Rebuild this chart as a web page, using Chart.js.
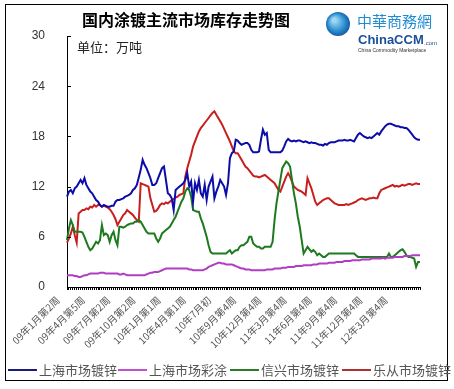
<!DOCTYPE html>
<html>
<head>
<meta charset="utf-8">
<script src="https://cdn.jsdelivr.net/npm/chart.js@4.4.0/dist/chart.umd.min.js"></script>
<style>
  html, body { margin: 0; padding: 0; background: #fff; }
  #wrap { position: relative; width: 454px; height: 389px; }
</style>
</head>
<body>
<div id="wrap"><canvas id="graph" width="454" height="389"></canvas></div>
<script>
// weekly data, 183 weeks (09年1月 - 12年6月)
var tickLabels = ["09年1月第2周", "09年4月第5周", "09年7月第2周", "09年10月第2周", "10年1月第1周", "10年4月第1周", "10年7月初",
  "10年9月第4周", "10年12月第4周", "11年3月第4周", "11年6月第4周", "11年9月第4周", "11年12月第4周", "12年3月第4周"];
var tickEvery = 13;

var shGalv = [10.8, 11.4, 11.6, 11.2, 11.8, 12, 12.4, 12.8, 12.4, 13, 12.2, 11.8, 11.4, 11.2, 10.8, 10.4, 10.2, 9.8, 9.6, 9.8,
  9.7, 9.6, 9.6, 9.7, 9.7, 10.2, 10.4, 10.4, 10.5, 10.6, 10.8, 10.9, 11, 11.2, 11.6, 11.8, 12.2, 13.1, 14, 15.2,
  14.6, 14.2, 13.6, 13, 12.2, 12.2, 12.4, 13, 13.6, 14.2, 14.4, 12.8, 11.2, 11, 10.6, 9.2, 11.6, 11.8, 12, 12.2,
  12.4, 12.8, 13.6, 12, 12.6, 10.2, 12.4, 11.6, 12.8, 11.2, 10.8, 12.2, 10.4, 12, 12.6, 13.2, 10.6, 11.4, 12, 12.8,
  12.4, 12, 11, 12.4, 15.4, 16, 16.2, 17.6, 17.5, 17.2, 17, 17.1, 17.2, 17.2, 17, 16.4, 16.1, 16.1, 16.1, 16.2,
  17.6, 18.8, 18.2, 18.4, 16.4, 16.1, 16.1, 16.1, 16.1, 16.1, 16.1, 16.3, 16.8, 17.4, 17.7, 17.5, 17.4, 17.5, 17.4, 17.5,
  17.5, 17.4, 17.3, 17.4, 17.3, 17.2, 17.3, 17.2, 17.2, 17.1, 17, 17, 16.9, 17.1, 17, 17.2, 17.3, 17.3, 17.3, 17.4,
  17.5, 17.5, 17.5, 17.6, 17.5, 17.5, 17.6, 17.5, 17.4, 17.8, 18.2, 18.4, 18.2, 18, 17.9, 17.8, 17.9, 17.8, 18, 18.2,
  18.4, 18.2, 18.6, 18.9, 19.2, 19.4, 19.5, 19.5, 19.4, 19.3, 19.2, 19.2, 19.1, 19.1, 19, 19, 18.8, 18.5, 18.2, 17.9,
  17.7, 17.6, 17.6];

var shColor = [1.4, 1.4, 1.4, 1.4, 1.3, 1.3, 1.2, 1.2, 1.3, 1.4, 1.4, 1.5, 1.6, 1.6, 1.6, 1.6, 1.6, 1.7, 1.7, 1.7,
  1.6, 1.6, 1.6, 1.6, 1.6, 1.6, 1.6, 1.5, 1.5, 1.6, 1.5, 1.4, 1.4, 1.4, 1.4, 1.4, 1.4, 1.4, 1.4, 1.4,
  1.4, 1.5, 1.6, 1.7, 1.7, 1.8, 1.8, 1.8, 1.9, 2.0, 2.1, 2.2, 2.2, 2.2, 2.2, 2.2, 2.2, 2.2, 2.2, 2.2,
  2.2, 2.2, 2.2, 2.1, 2.1, 2.0, 2.0, 2.0, 2.0, 2.0, 2.0, 2.1, 2.2, 2.4, 2.5, 2.6, 2.7, 2.8, 2.9, 2.9,
  2.8, 2.8, 2.7, 2.7, 2.7, 2.7, 2.6, 2.5, 2.4, 2.3, 2.2, 2.2, 2.1, 2.1, 2.1, 2.0, 2.0, 2.0, 2.0, 2.0,
  2.0, 2.0, 2.0, 2.1, 2.1, 2.1, 2.1, 2.2, 2.2, 2.2, 2.2, 2.3, 2.3, 2.3, 2.4, 2.4, 2.4, 2.4, 2.5, 2.5,
  2.5, 2.5, 2.6, 2.6, 2.6, 2.6, 2.6, 2.7, 2.7, 2.7, 2.8, 2.8, 2.8, 2.8, 2.8, 2.9, 2.9, 2.9, 2.9, 3.0,
  3.0, 3.0, 3.0, 3.1, 3.1, 3.1, 3.1, 3.2, 3.2, 3.2, 3.2, 3.2, 3.3, 3.3, 3.3, 3.3, 3.3, 3.4, 3.4, 3.4,
  3.4, 3.4, 3.4, 3.5, 3.4, 3.5, 3.5, 3.5, 3.5, 3.6, 3.6, 3.6, 3.6, 3.6, 3.7, 3.7, 3.7, 3.7, 3.8, 3.8,
  3.8, 3.8, 3.8];

var xinxing = [5.6, 7, 8, 7.4, 6.6, 6.6, 6.6, 6.6, 6.5, 6, 5.4, 4.8, 4.4, 4.6, 5, 5.4, 5.2, 5.6, 7.4, 6.2,
  6.4, 6.2, 5.4, 6.2, 6.6, 5.6, 5, 7.2, 7.2, 7.1, 7.2, 7.4, 7.5, 7.6, 7.6, 7.8, 7.8, 8, 7.8, 7.4,
  7, 6.6, 6.4, 6.4, 6.4, 6.4, 5.8, 5.4, 5.8, 6.4, 6.6, 6.8, 7, 7.2, 7.6, 8, 8.4, 9, 9.6, 10.2,
  10.6, 11.4, 11.8, 11.6, 10.8, 9.2, 9.1, 9, 9, 8.2, 7.6, 6.8, 6, 5, 4.2, 4, 4, 4, 4, 4,
  4, 4, 4, 4.2, 4.4, 4, 4.2, 4.4, 4.4, 4.8, 5, 5, 5.2, 5.4, 6, 6, 5.2, 5, 4.8, 4.8,
  4.6, 4.6, 4.8, 4.8, 4.8, 4.8, 5.4, 8, 10, 11.4, 12.8, 14.2, 14.6, 15, 14.8, 14.4, 12.8, 11.2, 10, 8.4,
  7.2, 5.6, 4, 4.4, 4.8, 4.5, 4.2, 4.4, 4.2, 3.8, 4, 3.8, 3.6, 3.6, 3.8, 4, 4, 4, 4, 4,
  4, 4, 4, 4, 4, 4, 4, 4, 4, 3.8, 3.6, 3.6, 3.6, 3.6, 3.6, 3.6, 3.6, 3.6, 3.6, 3.6,
  3.6, 3.6, 3.6, 3.6, 3.6, 3.6, 4, 3.6, 3.6, 3.8, 4, 4.2, 4.4, 4.5, 4.2, 3.8, 3.6, 3.6, 3.5, 3.4,
  2.4, 3, 3];

var lecong = [5.3, 5.8, 6.4, 7.2, 6.2, 5.3, 8.8, 9, 9.2, 9.2, 9.4, 9.3, 9.6, 9.5, 9.8, 9.6, 9.8, 9.8, 9.6, 9.7,
  9.6, 9.5, 9.3, 9, 8.6, 8.1, 7.4, 7.8, 8.2, 8.6, 8.8, 9.2, 9, 8.8, 8.6, 8.3, 8, 7.8, 12.4, 12.3,
  12.2, 12.1, 12, 10.6, 9.8, 9, 9.1, 9.4, 9.8, 10, 9.9, 10.1, 10, 10.2, 10.4, 10.5, 10.7, 10.8, 11, 11.1,
  11.2, 13.2, 14.2, 15, 15.8, 16.8, 17.4, 18, 18.6, 19, 19.3, 19.6, 19.9, 20.2, 20.5, 20.8, 21, 20.6, 20.2, 19.8,
  19.4, 18.9, 18.4, 17.9, 17.4, 16.8, 16.2, 16, 16, 15.6, 15.2, 14.8, 14.4, 14.2, 13.9, 13.6, 13.3, 13.2, 13.2, 13.1,
  13.2, 13.3, 13.4, 13.2, 13, 12.8, 12.6, 12.4, 12, 11.6, 11.4, 12, 12.6, 13.2, 13.6, 13.2, 12.6, 12, 11.8, 11.6,
  11.5, 11.4, 11.2, 11, 13, 12.4, 11.8, 11, 10.2, 9.8, 10, 10.2, 10.4, 10.5, 10.6, 10.6, 10.4, 10.2, 10, 9.9,
  9.8, 9.8, 9.8, 9.8, 9.9, 9.8, 9.9, 10, 10.1, 10.2, 10.4, 10.5, 10.6, 10.5, 10.4, 10.5, 10.6, 10.6, 10.7, 10.6,
  10.6, 11.2, 11.6, 11.7, 11.8, 11.9, 12, 12.1, 12.2, 12, 12.1, 12, 12.1, 12.2, 12.1, 12.2, 12.3, 12.3, 12.2, 12.3,
  12.4, 12.3, 12.3];

var categories = [];
for (var i = 0; i < shGalv.length; i++) {
  categories.push(i % tickEvery == 0 && tickLabels[i / tickEvery] ? tickLabels[i / tickEvery] : "");
}

// title, logo, frame, legend, inside ticks on y axis
var decor = {
  id: "decor",
  afterDraw: function (chart) {
    var c = chart.ctx;
    c.save();
    c.strokeStyle = "#000";
    c.lineWidth = 1;
    c.strokeRect(5.5, 4.5, 442, 376);

    c.fillStyle = "#000";
    c.font = "bold 16px 'Noto Sans CJK SC'";
    c.textAlign = "center";
    c.textBaseline = "middle";
    c.fillText("国内涂镀主流市场库存走势图", 186, 20);
    c.font = "13px 'Noto Sans CJK SC'";
    c.textAlign = "left";
    c.fillStyle = "#222";
    c.fillText("单位：万吨", 77, 47);

    // logo
    var g = c.createRadialGradient(334, 20, 2, 338, 24, 13);
    g.addColorStop(0, "#9fd6f2");
    g.addColorStop(0.6, "#2a8fd0");
    g.addColorStop(1, "#15509a");
    c.fillStyle = g;
    c.beginPath();
    c.arc(338, 24, 12, 0, Math.PI * 2);
    c.fill();
    c.fillStyle = "#1e8bd2";
    c.font = "15px 'Noto Sans CJK TC'";
    c.fillText("中華商務網", 357, 21);
    c.fillStyle = "#1a4f9a";
    c.font = "bold 13px 'Liberation Sans'";
    c.fillText("ChinaCCM", 358, 40);
    c.font = "6px 'Liberation Sans'";
    c.fillText(".com", 424, 43);
    c.font = "5px 'Liberation Sans'";
    c.fillStyle = "#333";
    c.fillText("China Commodity Marketplace", 358, 51);

    // legend in one row along the bottom
    var lx = [8, 118, 230, 342];
    c.font = "13px 'Noto Sans CJK SC'";
    chart.data.datasets.forEach(function (ds, k) {
      c.strokeStyle = ds.backgroundColor;
      c.lineWidth = 2;
      c.beginPath();
      c.moveTo(lx[k], 370);
      c.lineTo(lx[k] + 29, 370);
      c.stroke();
      c.fillStyle = "#555";
      c.fillText(ds.label, lx[k] + 31, 370);
    });

    // small inside tick marks on y axis
    var y = chart.scales.y;
    var left = chart.chartArea.left;
    c.strokeStyle = "#000";
    c.lineWidth = 1;
    y.ticks.forEach(function (t) {
      var py = Math.round(y.getPixelForValue(t.value)) + 0.5;
      c.beginPath();
      c.moveTo(left, py);
      c.lineTo(left + 4, py);
      c.stroke();
    });
    c.restore();
  },
};

var ctx = document.getElementById("graph").getContext("2d");
var myChart = new Chart(ctx, {
  type: "line",
  data: {
    labels: categories,
    datasets: [
      { label: "上海市场镀锌", data: shGalv, borderColor: "#0c0ca8", backgroundColor: "#1a1a80" },
      { label: "上海市场彩涂", data: shColor, borderColor: "#b23cc4", backgroundColor: "#c050d0" },
      { label: "信兴市场镀锌", data: xinxing, borderColor: "#1e7a1e", backgroundColor: "#2a7a2a" },
      { label: "乐从市场镀锌", data: lecong, borderColor: "#c81e1e", backgroundColor: "#b03030" },
    ],
  },
  options: {
    responsive: false,
    animation: false,
    elements: {
      point: { radius: 0 },
      line: { borderWidth: 2, tension: 0 },
    },
    layout: { padding: { left: 10, right: 34, top: 36, bottom: 34 } },
    plugins: {
      tooltip: { enabled: false },
      legend: { display: false },
    },
    scales: {
      x: {
        grid: { drawOnChartArea: false, tickLength: 3, color: "#000" },
        border: { color: "#000" },
        afterFit: function (scale) {
          scale.height = 68;
        },
        ticks: {
          autoSkip: false,
          minRotation: 45,
          maxRotation: 45,
          labelOffset: -9,
          padding: 4,
          color: "#555",
          font: { family: "'Noto Sans CJK SC'", size: 10 },
        },
      },
      y: {
        min: 0,
        max: 30,
        grid: { display: false },
        border: { color: "#000" },
        afterFit: function (scale) {
          scale.width = 57;
        },
        ticks: {
          stepSize: 6,
          padding: 14,
          color: "#333",
          font: { family: "'Liberation Sans'", size: 12 },
        },
      },
    },
  },
  plugins: [decor],
});
</script>
</body>
</html>
